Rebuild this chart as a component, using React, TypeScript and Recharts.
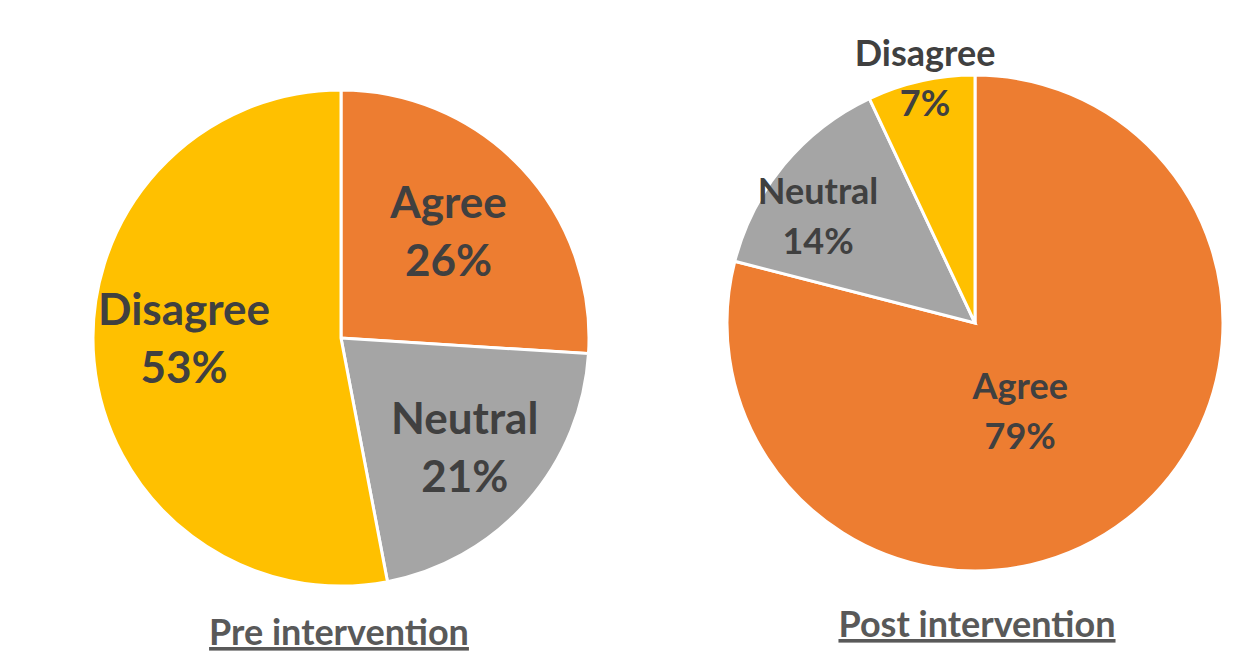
import { PieChart, Pie, Cell } from 'recharts'

const categories = ['Agree', 'Neutral', 'Disagree']
const preValues = [26, 21, 53]
const postValues = [79, 14, 7]
const titles = ['Pre intervention', 'Post intervention']

const colors = ['#ED7D31', '#A5A5A5', '#FFC000']
const RAD = Math.PI / 180

// label placement per slice: [radius factor, angle shift in degrees]
const preLabelPos = [[0.61, 1.5], [0.665, 0], [0.633, -5.4]]
const postLabelPos = [[0.4, -10.7], [0.766, 5.3], [1.01, -1.1]]

const preData = categories.map((name, i) => ({ name, value: preValues[i] }))
const postData = categories.map((name, i) => ({ name, value: postValues[i] }))

function makeLabel(pos: number[][], fontSize: number, gap: number) {
  return (props: any) => {
    const { cx, cy, midAngle, outerRadius, index, name, value } = props
    const [f, shift] = pos[index]
    const a = (midAngle + shift) * RAD
    const x = cx + outerRadius * f * Math.cos(a)
    const y = cy - outerRadius * f * Math.sin(a)
    const top = y - (gap + fontSize * 0.72) / 2 + fontSize * 0.72
    return (
      <text
        x={x}
        y={top}
        textAnchor="middle"
        fill="#404040"
        style={{ fontFamily: 'Lato, sans-serif', fontWeight: 700, fontSize }}
      >
        <tspan x={x} y={top}>{name}</tspan>
        <tspan x={x} y={top + gap}>{value}%</tspan>
      </text>
    )
  }
}

const titleStyle = { fontFamily: 'Lato, sans-serif', fontWeight: 700, fontSize: 36, textDecoration: 'underline' }

export default function App() {
  return (
    <div style={{ position: 'absolute', left: 0, top: 0, width: 1242, height: 658, background: '#fff' }}>
      <PieChart width={1242} height={658} margin={{ top: 0, right: 0, bottom: 0, left: 0 }}>
        <Pie
          data={preData}
          dataKey="value"
          cx={341}
          cy={338}
          outerRadius={248}
          startAngle={90}
          endAngle={-270}
          stroke="#fff"
          strokeWidth={3}
          labelLine={false}
          label={makeLabel(preLabelPos, 44, 58)}
          isAnimationActive={false}
        >
          {preData.map((d, i) => <Cell key={d.name} fill={colors[i]} />)}
        </Pie>
        <Pie
          data={postData}
          dataKey="value"
          cx={975}
          cy={323}
          outerRadius={248}
          startAngle={90}
          endAngle={-270}
          stroke="#fff"
          strokeWidth={3}
          labelLine={false}
          label={makeLabel(postLabelPos, 36, 50)}
          isAnimationActive={false}
        >
          {postData.map((d, i) => <Cell key={d.name} fill={colors[i]} />)}
        </Pie>
      </PieChart>
      <svg width={1242} height={658} style={{ position: 'absolute', left: 0, top: 0, pointerEvents: 'none' }}>
        <text x={339} y={645} textAnchor="middle" fill="#595959" style={titleStyle}>
          {titles[0]}
        </text>
        <text x={977} y={637} textAnchor="middle" fill="#595959" style={titleStyle}>
          {titles[1]}
        </text>
      </svg>
    </div>
  )
}
